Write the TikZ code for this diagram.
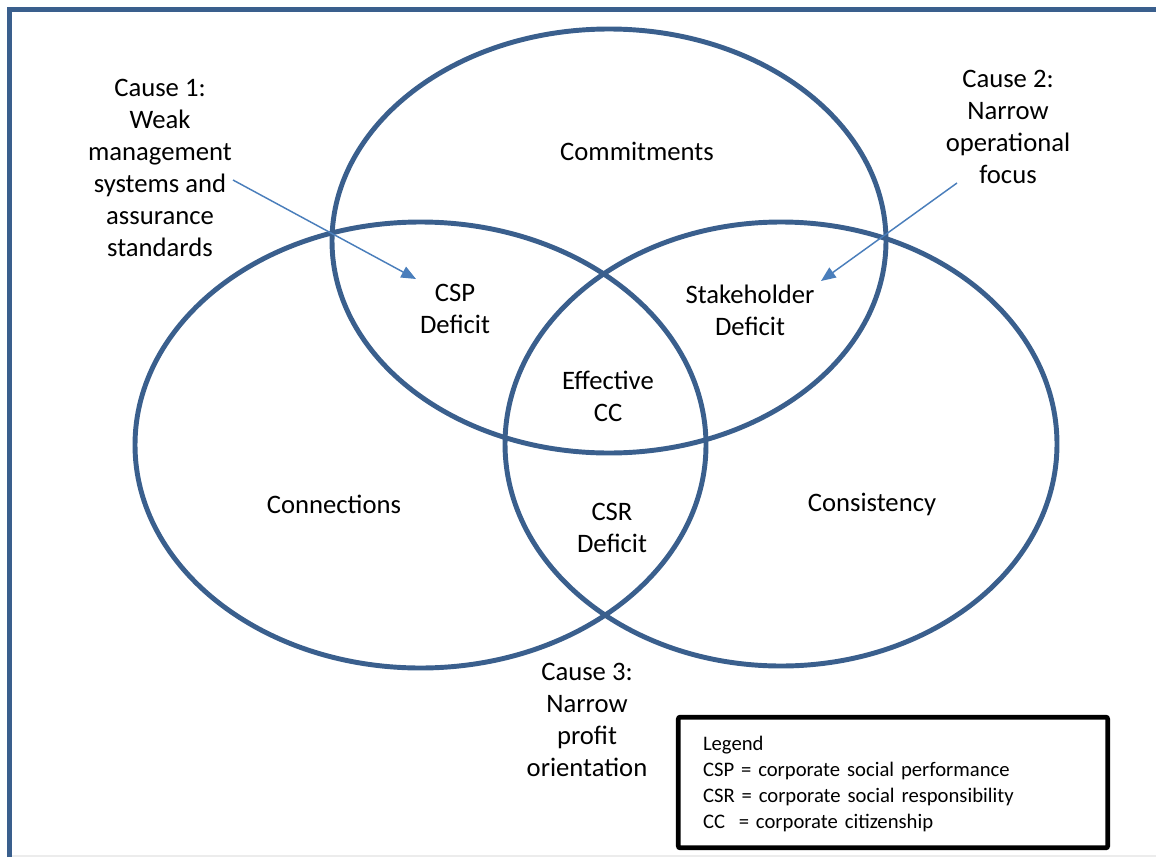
\documentclass[tikz,border=0pt]{standalone}
\usepackage{fontspec}
\setmainfont{Carlito}
\usetikzlibrary{arrows.meta}
\usepackage{xcolor}
\definecolor{setblue}{HTML}{3A5F8D}
\definecolor{arrblue}{HTML}{4A7EBB}
\tikzset{
  set_e/.style = {draw=setblue, line width=3.7pt},
  txt_n/.style = {align=center, inner sep=0pt, text centered,
    font=\fontsize{20}{24}\selectfont},
  leg_n/.style = {draw=black, line width=3.6pt, rounded corners=1.5pt,
    align=left, inner xsep=18.5pt, inner ysep=0pt, text width=285pt,
    minimum height=98pt, font=\fontsize{15.5}{19.7}\selectfont},
  cause_a/.style = {->, draw=arrblue, line width=1.1pt},
}

\begin{document}
\begin{tikzpicture}[x=0.75pt,y=-0.75pt,>={Triangle[length=11pt,width=9pt]}]
  \useasboundingbox (0,0) rectangle (1156,857);
  % frame
  \draw[setblue, line width=3.7pt] (9.5,857) -- (9.5,9.5) -- (1156,9.5);
  \draw[gray!15, line width=0.8pt] (12,856) -- (1156,856);
  % the three sets
  \draw[set_e] (609,241) ellipse [x radius=277, y radius=212];
  \draw[set_e] (420.5,445) ellipse [x radius=285.5, y radius=223];
  \draw[set_e] (781,444) ellipse [x radius=276, y radius=222];
  % labels
  \node [txt_n] (commit) at (637,151) {Commitments};
  \node [txt_n] (connect) at (334,504) {Connections};
  \node [txt_n] (consist) at (872,504) {Consistency};
  \node [txt_n] (csp) at (455,309) {CSP\\Deficit};
  \node [txt_n] (stake) at (750,310) {Stakeholder\\Deficit};
  \node [txt_n] (effcc) at (608,396) {Effective\\CC};
  \node [txt_n] (csr) at (612,528) {CSR\\Deficit};
  \node [txt_n] (cause1) at (160,168)
    {Cause 1:\\Weak\\management\\systems and\\assurance\\standards};
  \node [txt_n] (cause2) at (1008,127)
    {Cause 2:\\Narrow\\operational\\focus};
  \node [txt_n] (cause3) at (587,720)
    {Cause 3:\\Narrow\\profit\\orientation};
  \node [leg_n] (legend) at (893,782.5)
    {\rule{0pt}{13pt}Legend\\CSP = corporate social performance\\CSR = corporate social responsibility\\CC\ \ = corporate citizenship};
  % arrows
  \coordinate (c1tail) at (233,180);
  \coordinate (csptip) at (416,279);
  \coordinate (c2tail) at (957,183);
  \coordinate (staketip) at (821,281);
  \draw[cause_a] (c1tail) -- (csptip);
  \draw[cause_a] (c2tail) -- (staketip);
\end{tikzpicture}
\end{document}
